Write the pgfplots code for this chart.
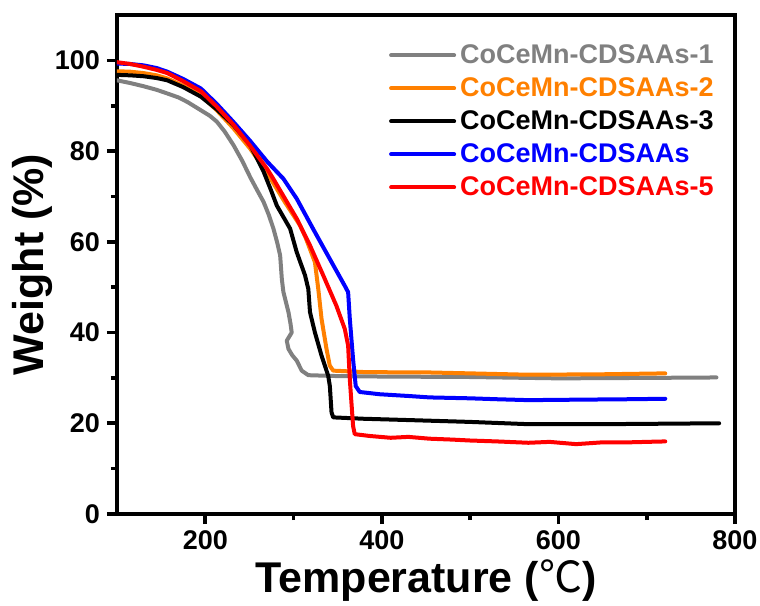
\documentclass[border=0pt]{standalone}
\usepackage{pgfplots}
\pgfplotsset{compat=1.18}
\usepackage{fontspec}
\setmainfont{Liberation Sans}
\newfontfamily\cjk{Noto Sans CJK SC}

\definecolor{tgagray}{RGB}{128,128,128}
\definecolor{tgaorange}{RGB}{255,128,0}
\definecolor{tgablack}{RGB}{0,0,0}
\definecolor{tgablue}{RGB}{0,0,255}
\definecolor{tgared}{RGB}{255,0,0}

\begin{document}
\begin{tikzpicture}
\begin{axis}[
  name=ax,
  width=309pt, height=249.5pt, scale only axis,
  xmin=100, xmax=800, ymin=0, ymax=110,
  xtick={200,400,600,800},
  minor xtick={300,500,700},
  ytick={0,20,40,60,80,100},
  minor ytick={10,30,50,70,90},
  tick pos=left,
  tick align=outside,
  major tick length=5pt,
  minor tick length=3pt,
  every tick/.style={line width=1.8pt, black},
  axis line style={line width=2pt},
  /pgf/number format/assume math mode=true,
  ticklabel style={font=\fontsize{13.5}{14}\selectfont\bfseries},
  xlabel={Temperature ({\cjk\mdseries ℃})},
  ylabel={Weight (\%)},
  label style={font=\fontsize{21.5}{24}\selectfont\bfseries},
  xlabel style={yshift=2pt},
  ylabel style={yshift=-5.5pt},
  legend style={draw=none, fill=none, at={(0.43,0.958)}, anchor=north west,
    font=\fontsize{13.5}{16}\selectfont\bfseries, row sep=1.6pt,
    cells={anchor=west}},
  legend image code/.code={\draw[#1, line width=2pt] (0pt,0pt) -- (31.5pt,0pt);},
  every axis plot/.append style={line width=2pt, line join=round, line cap=round},
]
% CoCeMn-CDSAAs-1
\addplot[tgagray] coordinates {
(100,95.6) (115,95.0) (130,94.3) (145,93.5) (157,92.7) (170,91.8) (180,90.8)
(195,89.0) (205,87.8) (213,86.5) (222,84.3) (232,81.3) (242,77.8) (251,74.2)
(259,71.3) (266,68.8) (272,65.9) (277.2,62.9) (281.5,59.8) (284.8,57.0)
(286.7,51.8) (288.5,48.9) (291.5,46.6) (294.2,44.5) (296.5,42.0) (297.9,40.0)
(292.3,38.2) (294.2,36.4) (298.5,35.0) (303.6,33.8) (309.2,31.6) (316.7,30.6)
(350,30.4) (400,30.3) (500,30.2) (600,29.9) (700,30.0) (779,30.1)
};
\addlegendentry{\textcolor{tgagray}{CoCeMn-CDSAAs-1}}
% CoCeMn-CDSAAs-2
\addplot[tgaorange] coordinates {
(100,97.6) (115,97.5) (130,97.2) (145,96.7) (157,96.0) (175,94.4) (195,92.3)
(213,89.0) (232,85.0) (251,80.5) (270,75.2) (290,68.8) (307.4,63.6)
(313.5,61.0) (318.6,58.4) (324.2,55.5) (328.0,49.6) (331.7,43.0) (337.3,36.4)
(341,32.7) (344.9,31.6) (378.7,31.3) (431.3,31.2) (454,31.2) (500,31.0)
(566,30.7) (650,30.8) (721,31.0)
};
\addlegendentry{\textcolor{tgaorange}{CoCeMn-CDSAAs-2}}
% CoCeMn-CDSAAs-3
\addplot[tgablack] coordinates {
(100,96.8) (115,96.7) (130,96.5) (145,96.1) (157,95.6) (175,94.1) (195,92.0)
(213,89.2) (232,85.7) (251,81.3) (266,75.5) (274,71.6) (281.0,68.0)
(289,65.3) (296.1,62.9) (303.6,57.7) (313.0,52.6) (316.7,49.6) (318.6,44.5)
(324.2,40.0) (331.7,34.9) (339.2,30.5) (341.1,28.2) (343.0,22.4) (344.9,21.3)
(378.7,21.0) (431.3,20.7) (500,20.3) (566,19.8) (650,19.8) (782,20.0)
};
\addlegendentry{\textcolor{tgablack}{CoCeMn-CDSAAs-3}}
% CoCeMn-CDSAAs
\addplot[tgablue] coordinates {
(100,99.3) (115,99.2) (130,98.9) (145,98.3) (157,97.5) (175,95.9) (195,93.8)
(213,90.4) (232,86.4) (251,82.2) (270,77.7) (288.5,73.9) (303.6,69.5)
(322,62.9) (341.1,56.2) (358.0,50.3) (361.8,48.9) (363.7,43.0) (367.4,34.1)
(370.4,28.2) (374.9,26.9) (397.5,26.4) (431.3,26.0) (454,25.7) (500,25.5)
(530,25.3) (566,25.1) (620,25.2) (680,25.3) (721,25.4)
};
\addlegendentry{\textcolor{tgablue}{CoCeMn-CDSAAs}}
% CoCeMn-CDSAAs-5
\addplot[tgared] coordinates {
(100,99.6) (115,99.2) (130,98.6) (145,97.9) (157,97.2) (175,95.4) (195,93.2)
(213,89.8) (232,85.8) (251,81.1) (270,76.1) (277,73.9) (290,69.6)
(303.6,65.1) (318.6,59.2) (333.6,52.6) (348.5,45.9) (358.0,40.8) (361.8,37.1)
(363.7,29.7) (367.4,19.4) (369.3,17.6) (386.2,17.2) (410,16.8) (430,17.0)
(454,16.6) (480,16.4) (500,16.2) (530,16.0) (566,15.7) (590,15.9) (620,15.4)
(650,15.8) (680,15.8) (700,15.9) (721,16.0)
};
\addlegendentry{\textcolor{tgared}{CoCeMn-CDSAAs-5}}
\end{axis}
\pgfresetboundingbox
\path ([xshift=-58.5pt,yshift=-45.5pt]ax.south west) rectangle ([xshift=12.5pt,yshift=7.5pt]ax.north east);
\end{tikzpicture}
\end{document}
